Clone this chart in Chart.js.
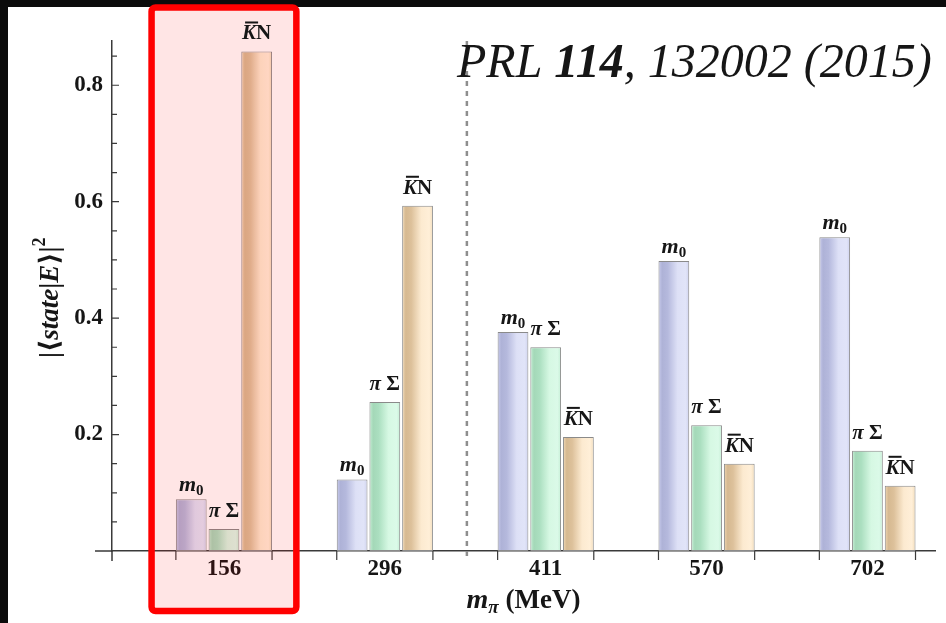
<!DOCTYPE html>
<html>
<head>
<meta charset="utf-8">
<title>Lambda(1405) state weights vs pion mass</title>
<script src="https://cdn.jsdelivr.net/npm/chart.js@4.4.1/dist/chart.umd.min.js"></script>
<style>
  html, body { margin: 0; padding: 0; background: #0b0b0b; }
  canvas { display: block; }
</style>
</head>
<body>
<canvas id="weights" width="946" height="623"></canvas>
<script>
// pion masses (MeV) and |<state|E>|^2 for each basis state
const pionMasses = ['156', '296', '411', '570', '702'];
const m0Weight = [0.089, 0.123, 0.376, 0.498, 0.539];
const piSigmaWeight = [0.038, 0.256, 0.350, 0.216, 0.172];
const kbarNWeight = [0.858, 0.593, 0.196, 0.150, 0.112];
const yMajorTicks = [0.2, 0.4, 0.6, 0.8];
const yMinorTicks = [0.05, 0.1, 0.15, 0.25, 0.3, 0.35, 0.45, 0.5, 0.55, 0.65, 0.7, 0.75, 0.85];

const SERIF = '"Liberation Serif", "DejaVu Serif", serif';
const INK = '#161616';

// cylinder-like shading, left to right
const SHADES = {
  m0: [[0, '#c9cced'], [0.12, '#aeb2d7'], [0.3, '#b5b9dd'], [0.62, '#dde0f6'], [0.88, '#e1e4f8'], [1, '#cfd3ef']],
  ps: [[0, '#c4eed4'], [0.12, '#a4d8b8'], [0.3, '#abdfc0'], [0.62, '#d6f8e3'], [0.88, '#dbfae8'], [1, '#c6efd6']],
  kn: [[0, '#efd7b3'], [0.12, '#d6b991'], [0.3, '#ddc19b'], [0.62, '#fcead0'], [0.88, '#ffefd8'], [1, '#f2dcb9']]
};

const bold = (px, italic) => (italic ? 'italic ' : '') + 'bold ' + px + 'px ' + SERIF;

const BAR_LABELS = [
  { gap: 8, runs: [{ t: 'm', font: bold(22, true) }, { t: '0', font: bold(15), dy: 4 }] },
  { gap: 12, runs: [{ t: 'π', font: bold(21, true) }, { t: ' Σ', font: bold(21) }] },
  { gap: 12, runs: [{ t: 'K', font: bold(21, true), over: true }, { t: 'N', font: bold(21) }] }
];

function runsWidth(ctx, runs) {
  let w = 0;
  runs.forEach(r => { ctx.font = r.font; w += ctx.measureText(r.t).width; });
  return w;
}

// draws mixed-font text; y is the baseline
function drawRuns(ctx, runs, x, y, align) {
  const w = runsWidth(ctx, runs);
  let cx = align === 'center' ? x - w / 2 : (align === 'right' ? x - w : x);
  ctx.textAlign = 'left';
  ctx.textBaseline = 'alphabetic';
  runs.forEach(r => {
    ctx.font = r.font;
    const rw = ctx.measureText(r.t).width;
    ctx.fillText(r.t, cx, y + (r.dy || 0));
    if (r.over) ctx.fillRect(cx + 3, y - 18, rw - 1, 2);
    cx += rw;
  });
}

const panel = {
  id: 'panel',
  beforeDraw(chart) {
    const c = chart.ctx;
    c.save();
    c.fillStyle = '#0b0b0b';
    c.fillRect(0, 0, chart.width, chart.height);
    c.fillStyle = '#ffffff';
    c.fillRect(8, 7, chart.width - 8, chart.height - 7);
    c.restore();
  }
};

const shading = {
  id: 'shading',
  beforeDatasetsDraw(chart) {
    const c = chart.ctx;
    chart.data.datasets.forEach((ds, di) => {
      chart.getDatasetMeta(di).data.forEach(bar => {
        const l = bar.x - bar.width / 2, r = bar.x + bar.width / 2;
        const g = c.createLinearGradient(l, 0, r, 0);
        ds.shade.forEach(([o, col]) => g.addColorStop(o, col));
        bar.options = Object.assign({}, bar.options, { backgroundColor: g });
      });
    });
  }
};

const extras = {
  id: 'extras',
  afterDatasetsDraw(chart) {
    const c = chart.ctx;
    const { left, right, top, bottom } = chart.chartArea;
    const xs = chart.scales.x, ys = chart.scales.y;
    c.save();

    // axis stubs past the origin
    c.strokeStyle = '#3a3a3a';
    c.lineWidth = 1.5;
    c.beginPath();
    c.moveTo(left - 17, bottom); c.lineTo(left, bottom);
    c.moveTo(left, bottom); c.lineTo(left, bottom + 10);
    c.stroke();

    // inward y tick marks
    c.lineWidth = 1.2;
    c.beginPath();
    yMajorTicks.forEach(v => { const y = ys.getPixelForValue(v); c.moveTo(left, y); c.lineTo(left + 7, y); });
    yMinorTicks.forEach(v => { const y = ys.getPixelForValue(v); c.moveTo(left, y); c.lineTo(left + 5, y); });
    c.stroke();

    // tick marks at the edges of each bar group
    const first = chart.getDatasetMeta(0).data, last = chart.getDatasetMeta(2).data;
    c.beginPath();
    first.forEach((b, i) => {
      const x0 = b.x - b.width / 2, x1 = last[i].x + last[i].width / 2;
      c.moveTo(x0, bottom); c.lineTo(x0, bottom + 9);
      c.moveTo(x1, bottom); c.lineTo(x1, bottom + 9);
    });
    c.stroke();

    // dashed divider between 296 and 411 MeV
    const xd = xs.getPixelForValue(1.51);
    c.strokeStyle = '#8e8e8e';
    c.lineWidth = 2.5;
    c.setLineDash([5, 5]);
    c.beginPath();
    c.moveTo(xd, top); c.lineTo(xd, bottom + 10);
    c.stroke();
    c.setLineDash([]);

    // highlight frame around the physical-point group
    const hx0 = xs.getPixelForValue(-0.45), hx1 = xs.getPixelForValue(0.45);
    c.fillStyle = 'rgba(255, 0, 0, 0.1)';
    c.fillRect(hx0, 7, hx1 - hx0, 604);
    c.strokeStyle = '#ff0000';
    c.lineWidth = 6.5;
    c.lineJoin = 'round';
    c.beginPath();
    c.roundRect(hx0, 7.5, hx1 - hx0, 603.5, 4);
    c.stroke();

    // state labels on top of the bars
    c.fillStyle = INK;
    chart.data.datasets.forEach((ds, di) => {
      const lab = BAR_LABELS[di];
      chart.getDatasetMeta(di).data.forEach(bar => {
        drawRuns(c, lab.runs, bar.x, bar.y - lab.gap, 'center');
      });
    });

    // axis titles
    drawRuns(c, [
      { t: 'm', font: bold(28, true) },
      { t: 'π', font: bold(19, true), dy: 5 },
      { t: ' (MeV)', font: bold(27) }
    ], (left + right) / 2, 608, 'center');

    c.save();
    c.translate(58, 358);
    c.rotate(-Math.PI / 2);
    drawRuns(c, [
      { t: '|⟨', font: bold(27) },
      { t: 'state', font: bold(27, true) },
      { t: '|', font: bold(27) },
      { t: 'E', font: bold(27, true) },
      { t: '⟩|', font: bold(27) },
      { t: '2', font: bold(18), dy: -13 }
    ], 0, 0, 'left');
    c.restore();

    // reference tag
    drawRuns(c, [
      { t: 'PRL ', font: 'italic 48px ' + SERIF },
      { t: '114', font: 'italic bold 48px ' + SERIF },
      { t: ', 132002 (2015)', font: 'italic 48px ' + SERIF }
    ], 457, 77, 'left');

    c.restore();
  }
};

const toXY = arr => arr.map((y, i) => ({ x: i, y }));

new Chart(document.getElementById('weights'), {
  type: 'bar',
  data: {
    datasets: [
      { label: 'm0', data: toXY(m0Weight), shade: SHADES.m0, backgroundColor: '#c5c9ea' },
      { label: 'πΣ', data: toXY(piSigmaWeight), shade: SHADES.ps, backgroundColor: '#c2eed3' },
      { label: 'K̄N', data: toXY(kbarNWeight), shade: SHADES.kn, backgroundColor: '#efd6b2' }
    ]
  },
  options: {
    responsive: false,
    animation: false,
    events: [],
    layout: { padding: { left: 8, top: 41, right: 11, bottom: 0 } },
    datasets: {
      bar: {
        categoryPercentage: 0.61,
        barPercentage: 0.94,
        borderWidth: 1,
        borderColor: '#8a8a8a',
        borderSkipped: false
      }
    },
    plugins: { legend: { display: false }, tooltip: { enabled: false } },
    scales: {
      x: {
        type: 'linear',
        offset: false,
        min: -0.696,
        max: 4.42,
        grid: { display: false, drawTicks: false, offset: false },
        border: { display: true, color: '#3a3a3a', width: 1.5 },
        afterBuildTicks: s => { s.ticks = pionMasses.map((_, i) => ({ value: i })); },
        ticks: {
          padding: 4,
          color: INK,
          font: { family: SERIF, size: 23, weight: 'bold' },
          maxRotation: 0,
          autoSkip: false,
          callback: (v, i) => pionMasses[i]
        },
        afterFit: s => { s.height = 72; }
      },
      y: {
        min: 0,
        max: 0.876,
        grid: { display: false, drawTicks: false },
        border: { display: true, color: '#3a3a3a', width: 1.5 },
        afterBuildTicks: s => { s.ticks = yMajorTicks.map(v => ({ value: v })); },
        ticks: {
          padding: 9,
          color: INK,
          font: { family: SERIF, size: 23, weight: 'bold' },
          callback: v => v.toFixed(1)
        },
        afterFit: s => { s.width = 104; }
      }
    }
  },
  plugins: [panel, shading, extras]
});
</script>
</body>
</html>
